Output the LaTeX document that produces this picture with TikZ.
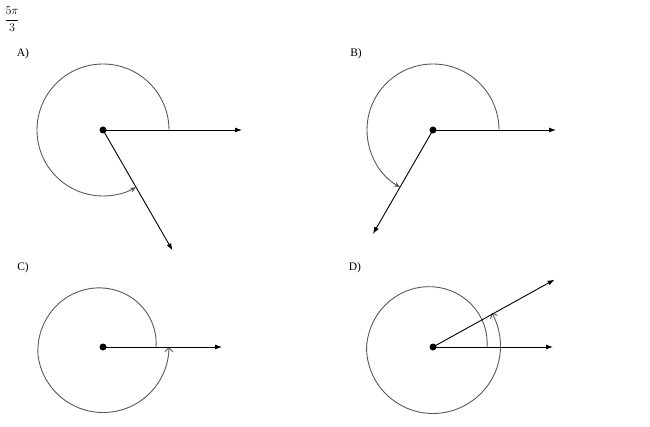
\documentclass[tikz,border=0pt]{standalone}
\usepackage{fontspec}
\setmainfont{Liberation Serif}
\usepackage{tikz}
\usetikzlibrary{arrows.meta,positioning,calc}

\tikzset{
    vertex/.style={circle,fill=black,inner sep=0pt,minimum size=7pt},
    ray/.style={line width=0.9pt,-{Latex[length=7pt,width=5pt]}},
    turn/.style={line width=0.9pt,draw=black!65,-{Stealth[length=6pt,width=5pt]}},
    turnopen/.style={line width=0.9pt,draw=black!65,-{Straight Barb[length=4pt,width=8pt]}},
    tag/.style={font=\fontsize{11.5}{13}\selectfont}
}

\begin{document}
\begin{tikzpicture}[x=1pt,y=1pt]
                \useasboundingbox (0,0) rectangle (650,426);

                \node[font=\fontsize{12.5}{14}\selectfont] (frac) at (12,407) {$\displaystyle\frac{5\pi}{3}$};

                \node[tag] (labA) at (23,372) {A)};
                \node[tag] (labB) at (356,372) {B)};
                \node[tag] (labC) at (23,158) {C)};
                \node[tag] (labD) at (355,158) {D)};

                \node[vertex] (oA) at (103,296) {};
                \node[vertex] (oB) at (433,296) {};
                \node[vertex] (oC) at (103,79) {};
                \node[vertex] (oD) at (433,79) {};

                \coordinate (iA) at ([shift={(0:139)}]oA.center);
                \coordinate (tA) at ([shift={(-60:139)}]oA.center);
                \coordinate (iB) at ([shift={(0:123)}]oB.center);
                \coordinate (tB) at ([shift={(240:120)}]oB.center);
                \coordinate (iC) at ([shift={(0:119)}]oC.center);
                \coordinate (iD) at ([shift={(0:120)}]oD.center);
                \coordinate (tD) at ([shift={(29:139)}]oD.center);

                \draw[
                    turn
                ] ([shift={(0:66)}]oA.center) arc[start angle=0,end angle=300,radius=66];
                \draw[ray] (oA.center) -- (iA);
                \draw[ray] (oA.center) -- (tA);

                \draw[
                    turn
                ] ([shift={(0:66)}]oB.center) arc[start angle=0,end angle=240,radius=66];
                \draw[ray] (oB.center) -- (iB);
                \draw[ray] (oB.center) -- (tB);

                \draw[
                    turnopen,
                    shift={(oC.center)}
                ] plot[domain=0:360,samples=91,smooth] (\x:{53+min(\x/15,12.5)+max(\x-270,0)/180});
                \draw[ray] (oC.center) -- (iC);

                \draw[
                    turnopen,
                    shift={(oD.center)}
                ] plot[domain=0:390,samples=99,smooth] (\x:{54+min(\x/14.5,12.5)+max(\x-300,0)/60});
                \draw[ray] (oD.center) -- (iD);
                \draw[ray] (oD.center) -- (tD);

\end{tikzpicture}
\end{document}
